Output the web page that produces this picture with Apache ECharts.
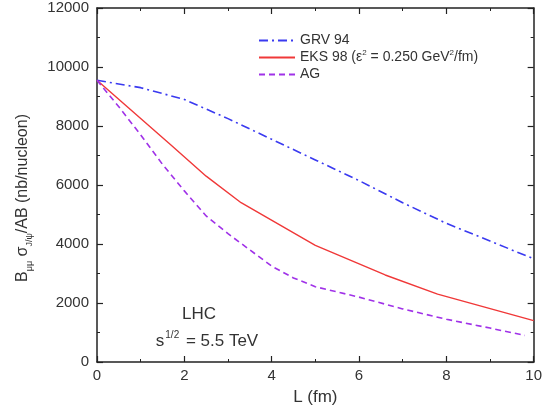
<!DOCTYPE html>
<html>
<head>
<meta charset="utf-8">
<script src="https://cdn.jsdelivr.net/npm/echarts@6/dist/echarts.min.js"></script>
<style>
  html, body { margin: 0; padding: 0; background: #fff; }
  #main { width: 545px; height: 411px; }
</style>
</head>
<body>
<div id="main"></div>
<script>
  // L (fm) and B_mumu sigma/AB (nb/nucleon)
  var grvL = [0, 1, 2, 3, 4, 5, 6, 7, 8, 9, 10]
  var grvVal = [9550, 9300, 8900, 8250, 7550, 6850, 6150, 5400, 4700, 4100, 3500]

  var eksL = [0, 1.7, 2.5, 3.3, 5, 6.6, 7.8, 10]
  var eksVal = [9550, 7350, 6300, 5400, 3950, 2950, 2300, 1400]

  var agL = [0, 0.5, 1, 1.5, 2, 2.5, 3, 3.5, 4, 4.5, 5, 6, 7, 8, 9, 9.8]
  var agVal = [9550, 8650, 7700, 6700, 5800, 4950, 4350, 3800, 3250, 2850, 2550, 2200, 1800, 1450, 1150, 900]

  var seriesNames = ['GRV 94', 'EKS 98', 'AG']

  function pairs(xs, ys) {
    return xs.map(function (x, i) { return [x, ys[i]] })
  }

  var font = 'Liberation Sans, Arial, sans-serif'
  var axisCol = '#222'
  var textCol = '#333'

  var myChart = echarts.init(document.getElementById('main'))

  // one side of the frame box, ticks pointing inwards
  function frameAxis(pos, isX, show) {
    return {
      type: 'value',
      position: pos,
      min: 0,
      max: isX ? 10 : 12000,
      interval: isX ? 2 : 2000,
      axisLine: { show: true, onZero: false, lineStyle: { color: axisCol, width: 1.5 } },
      axisTick: { show: true, inside: true, length: 6, lineStyle: { color: axisCol, width: 1.2 } },
      minorTick: { show: true, splitNumber: 2, length: 3, lineStyle: { color: axisCol, width: 1 } },
      axisLabel: {
        show: show, color: textCol, fontFamily: font, fontSize: 15, margin: isX ? 6 : 8,
        formatter: function (v) { return String(v) }
      },
      splitLine: { show: false }
    }
  }

  var xBottom = frameAxis('bottom', true, true)
  xBottom.name = 'L (fm)'
  xBottom.nameLocation = 'middle'
  xBottom.nameGap = 27
  xBottom.nameTextStyle = { color: textCol, fontFamily: font, fontSize: 17 }

  var option = {
    animation: false,
    backgroundColor: '#fff',
    grid: { left: 97, right: 10, top: 8, bottom: 39 },
    xAxis: [xBottom, frameAxis('top', true, false)],
    yAxis: [frameAxis('left', false, true), frameAxis('right', false, false)],
    legend: {
      orient: 'vertical',
      left: 253,
      top: 27,
      itemWidth: 36,
      itemHeight: 14,
      itemGap: 0,
      itemStyle: { opacity: 0 },
      data: seriesNames,
      textStyle: {
        color: textCol, fontFamily: font, fontSize: 14, lineHeight: 17,
        rich: {
          sup: { fontSize: 8, fontFamily: font, color: textCol, verticalAlign: 'top', lineHeight: 17 }
        }
      },
      formatter: function (name) {
        if (name === 'EKS 98') return 'EKS 98 (ε{sup|2} = 0.250 GeV{sup|2}/fm)'
        return name
      }
    },
    graphic: [
      {
        // y axis title with subscripts
        type: 'text', x: 23, y: 198, rotation: Math.PI / 2,
        style: {
          text: 'B{sub|μμ} σ{sub|J/ψ}/AB (nb/nucleon)',
          x: 0, y: 0, align: 'center', verticalAlign: 'middle',
          fill: textCol, font: '16px ' + font, lineHeight: 22,
          rich: { sub: { fontSize: 9, fontFamily: font, fill: textCol, verticalAlign: 'bottom', lineHeight: 22 } }
        }
      },
      {
        type: 'text', x: 199, y: 314,
        style: { text: 'LHC', x: 0, y: 0, align: 'center', verticalAlign: 'middle', fill: textCol, font: '17px ' + font }
      },
      {
        type: 'text', x: 207, y: 341,
        style: {
          text: 's{sup|1/2} = 5.5 TeV', x: 0, y: 0, align: 'center', verticalAlign: 'middle',
          fill: textCol, font: '17px ' + font, lineHeight: 22,
          rich: { sup: { fontSize: 10, fontFamily: font, fill: textCol, verticalAlign: 'top', lineHeight: 22, padding: [0, 2, 0, 1] } }
        }
      }
    ],
    series: [
      {
        name: seriesNames[0], type: 'line', symbol: 'none',
        data: pairs(grvL, grvVal),
        itemStyle: { color: '#3a3af0' },
        lineStyle: { color: '#3a3af0', width: 1.6, type: [9, 4, 2, 4] }
      },
      {
        name: seriesNames[1], type: 'line', symbol: 'none',
        data: pairs(eksL, eksVal),
        itemStyle: { color: '#f03838' },
        lineStyle: { color: '#f03838', width: 1.4, type: 'solid' }
      },
      {
        name: seriesNames[2], type: 'line', symbol: 'none',
        data: pairs(agL, agVal),
        itemStyle: { color: '#a032e8' },
        lineStyle: { color: '#a032e8', width: 1.6, type: [6, 4] }
      }
    ]
  }

  myChart.setOption(option)
</script>
</body>
</html>
